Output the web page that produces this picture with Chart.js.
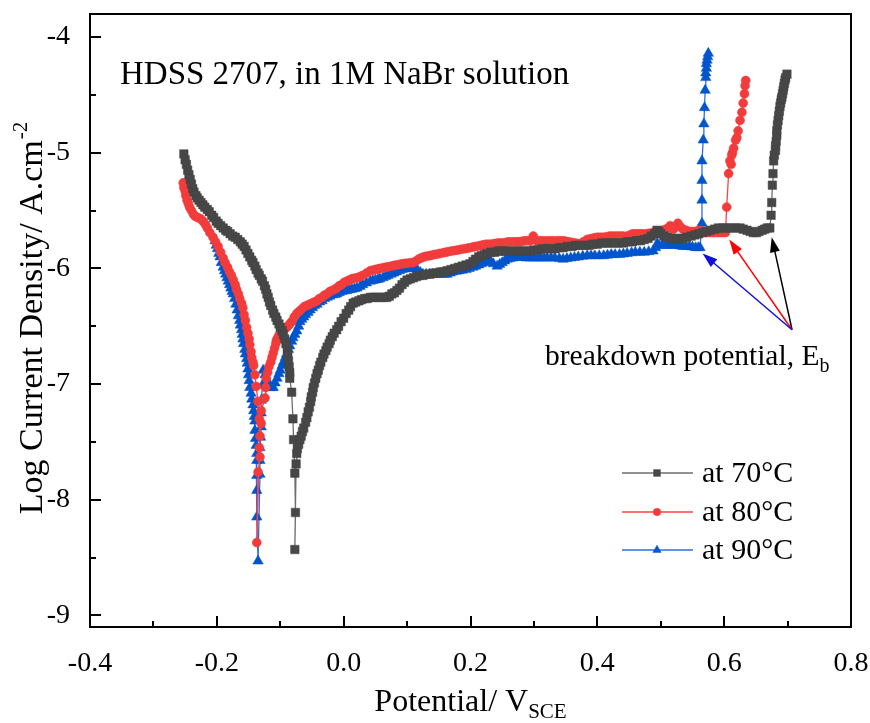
<!DOCTYPE html>
<html>
<head>
<meta charset="utf-8">
<script src="https://cdn.jsdelivr.net/npm/chart.js@4.4.0/dist/chart.umd.min.js"></script>
<style>
  html, body { margin: 0; padding: 0; background: #fff; }
  #wrap { width: 870px; height: 723px; }
</style>
</head>
<body>
<div id="wrap"><canvas id="tafel" width="870" height="723"></canvas></div>
<script>
// ---- polarization scans: [potential V vs SCE, log current density] ----
const scan70 = [
  [-0.252,-5.01],[-0.250,-5.06],[-0.248,-5.10],[-0.246,-5.15],[-0.244,-5.19],[-0.242,-5.23],[-0.240,-5.27],[-0.238,-5.31],
  [-0.236,-5.34],[-0.233,-5.37],[-0.231,-5.39],[-0.228,-5.41],[-0.225,-5.43],[-0.222,-5.45],[-0.219,-5.47],[-0.215,-5.49],
  [-0.212,-5.51],[-0.208,-5.54],[-0.205,-5.56],[-0.201,-5.59],[-0.198,-5.61],[-0.194,-5.63],[-0.190,-5.65],[-0.186,-5.67],
  [-0.183,-5.68],[-0.179,-5.70],[-0.175,-5.72],[-0.171,-5.73],[-0.167,-5.75],[-0.163,-5.77],[-0.160,-5.79],[-0.157,-5.81],
  [-0.154,-5.84],[-0.151,-5.87],[-0.148,-5.90],[-0.145,-5.93],[-0.143,-5.95],[-0.140,-5.98],[-0.138,-6.01],[-0.135,-6.04],
  [-0.133,-6.06],[-0.130,-6.09],[-0.128,-6.11],[-0.125,-6.15],[-0.123,-6.18],[-0.121,-6.22],[-0.119,-6.25],[-0.117,-6.29],
  [-0.115,-6.32],[-0.112,-6.36],[-0.110,-6.39],[-0.107,-6.42],[-0.105,-6.45],[-0.102,-6.48],[-0.100,-6.51],[-0.097,-6.54],
  [-0.095,-6.57],[-0.093,-6.61],[-0.091,-6.65],[-0.089,-6.70],[-0.088,-6.75],[-0.087,-6.80],[-0.086,-6.85],[-0.085,-6.90],
  [-0.085,-6.95],[-0.082,-7.07],[-0.080,-7.30],[-0.079,-7.48],[-0.077,-7.77],[-0.076,-8.11],[-0.077,-8.43],
  [-0.075,-7.69],[-0.074,-7.60],[-0.073,-7.56],[-0.071,-7.52],[-0.069,-7.48],[-0.067,-7.45],[-0.065,-7.41],[-0.063,-7.38],
  [-0.060,-7.33],[-0.058,-7.29],[-0.056,-7.24],[-0.054,-7.20],[-0.052,-7.15],[-0.051,-7.11],[-0.049,-7.07],[-0.048,-7.03],
  [-0.046,-6.99],[-0.044,-6.95],[-0.042,-6.91],[-0.040,-6.88],[-0.038,-6.84],[-0.036,-6.81],[-0.033,-6.77],[-0.031,-6.74],
  [-0.028,-6.71],[-0.026,-6.68],[-0.023,-6.65],[-0.021,-6.62],[-0.018,-6.59],[-0.015,-6.56],[-0.011,-6.53],[-0.008,-6.50],
  [-0.004,-6.46],[0.000,-6.43],[0.004,-6.39],[0.008,-6.36],[0.011,-6.33],[0.015,-6.30],[0.019,-6.29],[0.024,-6.28],
  [0.028,-6.27],[0.033,-6.26],[0.037,-6.26],[0.042,-6.25],[0.046,-6.25],[0.050,-6.25],[0.055,-6.25],[0.059,-6.25],
  [0.064,-6.25],[0.068,-6.25],[0.072,-6.24],[0.076,-6.22],[0.080,-6.21],[0.084,-6.19],[0.088,-6.17],[0.092,-6.14],
  [0.096,-6.12],[0.100,-6.10],[0.105,-6.09],[0.110,-6.08],[0.115,-6.07],[0.120,-6.06],[0.125,-6.06],[0.130,-6.05],
  [0.136,-6.05],[0.142,-6.04],[0.147,-6.04],[0.153,-6.03],[0.158,-6.03],[0.163,-6.02],[0.169,-6.01],[0.175,-6.00],
  [0.181,-5.99],[0.187,-5.98],[0.193,-5.97],[0.199,-5.96],[0.204,-5.94],[0.208,-5.92],[0.213,-5.90],[0.217,-5.89],
  [0.222,-5.88],[0.226,-5.87],[0.232,-5.86],[0.238,-5.86],[0.244,-5.85],[0.250,-5.85],[0.256,-5.85],[0.262,-5.85],
  [0.268,-5.85],[0.275,-5.85],[0.280,-5.85],[0.285,-5.85],[0.290,-5.85],[0.294,-5.85],[0.300,-5.84],[0.307,-5.84],
  [0.313,-5.83],[0.320,-5.83],[0.326,-5.83],[0.333,-5.83],[0.340,-5.82],[0.346,-5.82],[0.353,-5.81],[0.360,-5.81],
  [0.366,-5.80],[0.373,-5.80],[0.380,-5.80],[0.387,-5.80],[0.393,-5.79],[0.400,-5.79],[0.407,-5.78],[0.414,-5.78],
  [0.420,-5.78],[0.427,-5.78],[0.434,-5.78],[0.441,-5.78],[0.448,-5.77],[0.455,-5.77],[0.462,-5.76],[0.468,-5.76],
  [0.474,-5.75],[0.480,-5.74],[0.485,-5.72],[0.490,-5.70],[0.494,-5.67],[0.497,-5.68],[0.500,-5.70],[0.505,-5.72],
  [0.510,-5.73],[0.516,-5.74],[0.522,-5.74],[0.528,-5.74],[0.535,-5.74],[0.541,-5.73],[0.548,-5.72],[0.554,-5.71],
  [0.560,-5.70],[0.566,-5.69],[0.572,-5.68],[0.578,-5.67],[0.585,-5.66],[0.591,-5.65],[0.598,-5.65],[0.604,-5.65],
  [0.611,-5.65],[0.618,-5.65],[0.625,-5.65],[0.630,-5.66],[0.636,-5.67],[0.641,-5.68],[0.646,-5.69],[0.651,-5.69],
  [0.655,-5.68],[0.660,-5.67],[0.664,-5.66],[0.668,-5.65],[0.672,-5.65],
  [0.674,-5.54],[0.675,-5.43],[0.676,-5.28],[0.677,-5.18],[0.678,-5.07],[0.679,-5.02],[0.681,-4.98],[0.681,-4.94],
  [0.682,-4.90],[0.683,-4.85],[0.683,-4.81],[0.684,-4.76],[0.685,-4.72],[0.686,-4.68],[0.687,-4.64],[0.688,-4.60],
  [0.689,-4.57],[0.690,-4.54],[0.691,-4.52],[0.692,-4.49],[0.693,-4.46],[0.694,-4.43],[0.695,-4.40],[0.696,-4.37],
  [0.697,-4.35],[0.699,-4.32]
];

const scan80 = [
  [-0.253,-5.26],[-0.252,-5.30],[-0.250,-5.33],[-0.249,-5.37],[-0.247,-5.41],[-0.245,-5.44],[-0.243,-5.47],[-0.240,-5.50],
  [-0.237,-5.53],[-0.234,-5.55],[-0.230,-5.56],[-0.226,-5.57],[-0.222,-5.59],[-0.218,-5.62],[-0.215,-5.65],[-0.211,-5.69],
  [-0.206,-5.73],[-0.202,-5.77],[-0.198,-5.81],[-0.194,-5.86],[-0.190,-5.91],[-0.187,-5.95],[-0.183,-5.99],[-0.180,-6.03],
  [-0.177,-6.06],[-0.174,-6.10],[-0.171,-6.14],[-0.169,-6.18],[-0.166,-6.22],[-0.164,-6.26],[-0.161,-6.30],[-0.159,-6.34],
  [-0.157,-6.40],[-0.155,-6.45],[-0.153,-6.51],[-0.151,-6.56],[-0.149,-6.61],[-0.148,-6.66],[-0.146,-6.72],[-0.145,-6.77],
  [-0.143,-6.81],[-0.142,-6.84],[-0.140,-6.92],[-0.138,-7.02],[-0.135,-7.15],[-0.133,-7.30],[-0.132,-7.45],[-0.132,-7.63],
  [-0.135,-7.76],[-0.137,-8.37],
  [-0.133,-7.55],[-0.130,-7.34],[-0.130,-7.23],[-0.124,-7.12],[-0.123,-7.03],[-0.122,-6.95],[-0.120,-6.90],[-0.118,-6.85],
  [-0.115,-6.81],[-0.113,-6.77],[-0.111,-6.73],[-0.109,-6.69],[-0.107,-6.65],[-0.106,-6.62],[-0.104,-6.60],[-0.102,-6.58],
  [-0.100,-6.56],[-0.098,-6.55],[-0.096,-6.54],[-0.093,-6.52],[-0.090,-6.51],[-0.088,-6.50],[-0.085,-6.48],[-0.082,-6.46],
  [-0.078,-6.42],[-0.074,-6.39],[-0.070,-6.37],[-0.066,-6.35],[-0.062,-6.33],[-0.058,-6.32],[-0.054,-6.31],[-0.050,-6.30],
  [-0.046,-6.29],[-0.042,-6.28],[-0.038,-6.26],[-0.034,-6.25],[-0.030,-6.23],[-0.026,-6.22],[-0.022,-6.20],[-0.018,-6.19],
  [-0.014,-6.18],[-0.011,-6.17],[-0.007,-6.15],[-0.003,-6.14],[0.001,-6.12],[0.005,-6.11],[0.009,-6.10],[0.013,-6.09],
  [0.017,-6.085],[0.021,-6.08],[0.026,-6.07],[0.030,-6.06],[0.036,-6.04],[0.042,-6.02],[0.046,-6.015],[0.050,-6.01],
  [0.054,-6.005],[0.057,-6.00],[0.062,-5.995],[0.066,-5.99],[0.070,-5.985],[0.075,-5.98],[0.079,-5.975],[0.083,-5.97],
  [0.088,-5.965],[0.092,-5.96],[0.096,-5.957],[0.100,-5.955],[0.105,-5.95],[0.109,-5.95],[0.113,-5.94],[0.118,-5.92],
  [0.122,-5.91],[0.126,-5.90],[0.130,-5.895],[0.135,-5.89],[0.139,-5.885],[0.143,-5.88],[0.148,-5.875],[0.152,-5.87],
  [0.157,-5.865],[0.161,-5.86],[0.165,-5.855],[0.170,-5.85],[0.175,-5.845],[0.180,-5.84],[0.185,-5.835],[0.190,-5.83],
  [0.195,-5.825],[0.199,-5.82],[0.204,-5.815],[0.208,-5.81],[0.213,-5.805],[0.217,-5.80],[0.221,-5.795],[0.225,-5.79],
  [0.230,-5.79],[0.234,-5.79],[0.238,-5.785],[0.243,-5.78],[0.247,-5.78],[0.251,-5.78],[0.256,-5.775],[0.260,-5.77],
  [0.265,-5.77],[0.270,-5.77],[0.274,-5.77],[0.278,-5.77],[0.282,-5.765],[0.286,-5.76],[0.290,-5.76],[0.294,-5.76],
  [0.299,-5.72],[0.304,-5.76],[0.308,-5.76],[0.313,-5.76],[0.319,-5.76],[0.325,-5.76],[0.330,-5.76],[0.336,-5.76],
  [0.341,-5.76],[0.346,-5.76],[0.350,-5.765],[0.355,-5.77],[0.360,-5.775],[0.365,-5.78],[0.369,-5.785],[0.373,-5.79],
  [0.378,-5.77],[0.384,-5.75],[0.388,-5.745],[0.392,-5.74],[0.396,-5.735],[0.400,-5.73],[0.405,-5.73],[0.410,-5.73],
  [0.415,-5.725],[0.420,-5.72],[0.425,-5.72],[0.430,-5.72],[0.435,-5.72],[0.440,-5.72],[0.447,-5.72],[0.452,-5.71],
  [0.456,-5.70],[0.461,-5.70],[0.466,-5.70],[0.471,-5.70],[0.477,-5.70],[0.482,-5.695],[0.488,-5.69],[0.493,-5.685],
  [0.498,-5.68],[0.503,-5.67],[0.508,-5.66],[0.512,-5.65],[0.515,-5.63],[0.518,-5.65],[0.520,-5.66],[0.524,-5.64],
  [0.527,-5.61],[0.531,-5.64],[0.535,-5.66],[0.540,-5.67],[0.545,-5.68],[0.550,-5.68],[0.555,-5.68],[0.559,-5.675],
  [0.562,-5.67],[0.567,-5.68],[0.572,-5.69],[0.577,-5.69],[0.582,-5.69],[0.587,-5.69],[0.592,-5.69],[0.597,-5.69],
  [0.602,-5.69],
  [0.604,-5.47],[0.607,-5.18],[0.609,-5.07],[0.611,-5.10],[0.612,-5.02],[0.613,-5.00],[0.615,-4.96],[0.618,-4.89],
  [0.620,-4.87],[0.622,-4.81],[0.625,-4.72],[0.628,-4.65],[0.630,-4.57],[0.632,-4.49],[0.633,-4.42],[0.634,-4.375]
];

const scan90 = [
  [-0.203,-5.76],[-0.201,-5.80],[-0.199,-5.83],[-0.197,-5.87],[-0.195,-5.90],[-0.193,-5.95],[-0.190,-5.99],[-0.188,-6.02],
  [-0.186,-6.05],[-0.184,-6.08],[-0.182,-6.11],[-0.180,-6.14],[-0.178,-6.17],[-0.176,-6.20],[-0.174,-6.22],[-0.172,-6.26],
  [-0.170,-6.31],[-0.168,-6.36],[-0.166,-6.41],[-0.164,-6.45],[-0.163,-6.49],[-0.161,-6.53],[-0.160,-6.57],[-0.159,-6.61],
  [-0.158,-6.65],[-0.156,-6.70],[-0.155,-6.74],[-0.153,-6.78],[-0.152,-6.82],[-0.151,-6.87],[-0.150,-6.92],[-0.149,-6.97],
  [-0.148,-7.03],[-0.146,-7.08],[-0.145,-7.13],[-0.143,-7.18],[-0.142,-7.23],[-0.141,-7.28],[-0.140,-7.32],[-0.140,-7.40],
  [-0.139,-7.47],[-0.138,-7.53],[-0.137,-7.60],[-0.137,-7.66],[-0.137,-7.79],[-0.137,-7.92],[-0.137,-8.15],[-0.135,-8.53],
  [-0.132,-7.78],[-0.132,-7.66],[-0.132,-7.55],[-0.131,-7.46],[-0.130,-7.37],[-0.130,-7.25],[-0.130,-7.14],[-0.128,-7.01],
  [-0.127,-6.88],[-0.124,-6.92],[-0.122,-6.95],[-0.119,-6.99],[-0.116,-7.03],[-0.113,-7.03],[-0.111,-7.03],[-0.108,-6.99],
  [-0.105,-6.95],[-0.102,-6.91],[-0.100,-6.88],[-0.097,-6.84],[-0.095,-6.81],[-0.092,-6.77],[-0.090,-6.74],[-0.087,-6.70],
  [-0.085,-6.67],[-0.082,-6.63],[-0.080,-6.60],[-0.077,-6.57],[-0.074,-6.54],[-0.071,-6.50],[-0.069,-6.46],[-0.066,-6.44],
  [-0.063,-6.42],[-0.060,-6.40],[-0.056,-6.38],[-0.053,-6.36],[-0.049,-6.34],[-0.046,-6.32],[-0.042,-6.31],[-0.038,-6.29],
  [-0.034,-6.28],[-0.030,-6.26],[-0.026,-6.25],[-0.022,-6.24],[-0.018,-6.23],[-0.014,-6.225],[-0.011,-6.22],[-0.007,-6.21],
  [-0.003,-6.20],[0.001,-6.195],[0.005,-6.19],[0.009,-6.185],[0.013,-6.18],[0.017,-6.175],[0.021,-6.17],[0.026,-6.155],
  [0.030,-6.14],[0.036,-6.125],[0.042,-6.11],[0.046,-6.105],[0.050,-6.10],[0.054,-6.095],[0.057,-6.09],[0.062,-6.08],
  [0.066,-6.07],[0.070,-6.06],[0.075,-6.05],[0.079,-6.04],[0.083,-6.03],[0.088,-6.02],[0.092,-6.01],[0.096,-6.005],
  [0.100,-6.00],[0.105,-5.995],[0.109,-5.99],[0.113,-6.005],[0.117,-6.02],[0.121,-6.035],[0.125,-6.05],[0.130,-6.05],
  [0.135,-6.05],[0.140,-6.05],[0.145,-6.05],[0.150,-6.05],[0.155,-6.05],[0.159,-6.05],[0.163,-6.05],[0.168,-6.04],
  [0.172,-6.03],[0.177,-6.025],[0.182,-6.02],[0.187,-6.015],[0.193,-6.01],[0.198,-6.00],[0.204,-5.99],[0.208,-5.98],
  [0.213,-5.97],[0.217,-5.96],[0.222,-5.95],[0.226,-5.94],[0.231,-5.93],[0.236,-5.96],[0.242,-5.98],[0.246,-5.965],
  [0.250,-5.95],[0.254,-5.935],[0.258,-5.92],[0.262,-5.915],[0.267,-5.91],[0.272,-5.905],[0.278,-5.90],[0.283,-5.905],
  [0.288,-5.91],[0.294,-5.91],[0.300,-5.91],[0.305,-5.91],[0.310,-5.91],[0.316,-5.91],[0.321,-5.91],[0.327,-5.91],
  [0.333,-5.91],[0.340,-5.915],[0.346,-5.92],[0.352,-5.915],[0.358,-5.91],[0.364,-5.905],[0.370,-5.90],[0.377,-5.895],
  [0.384,-5.89],[0.390,-5.89],[0.396,-5.89],[0.403,-5.89],[0.410,-5.89],[0.416,-5.885],[0.422,-5.88],[0.428,-5.88],
  [0.435,-5.88],[0.441,-5.875],[0.447,-5.87],[0.454,-5.865],[0.460,-5.86],[0.467,-5.86],[0.474,-5.86],[0.481,-5.855],
  [0.488,-5.85],[0.492,-5.82],[0.494,-5.79],[0.494,-5.70],[0.497,-5.80],[0.502,-5.80],[0.506,-5.80],[0.511,-5.80],
  [0.515,-5.80],[0.520,-5.80],[0.525,-5.80],[0.530,-5.805],[0.535,-5.81],[0.540,-5.81],[0.545,-5.81],[0.550,-5.815],
  [0.555,-5.82],[0.559,-5.82],[0.562,-5.82],
  [0.565,-5.61],[0.565,-5.41],[0.565,-5.24],[0.565,-5.07],[0.567,-4.89],[0.568,-4.75],[0.569,-4.61],[0.570,-4.46],
  [0.571,-4.35],[0.571,-4.31],[0.572,-4.27],[0.572,-4.23],[0.573,-4.20],[0.574,-4.17],[0.575,-4.14]
];

const seriesLabels = ['at 70\u00B0C', 'at 80\u00B0C', 'at 90\u00B0C'];
const xTicks = [-0.4, -0.2, 0.0, 0.2, 0.4, 0.6, 0.8];
const yTicks = [-9, -8, -7, -6, -5, -4];

// arrows marking the breakdown potential E_b: shared tail, one tip per curve (70, 80, 90 C)
const arrowTail = [0.707, -6.53];
const arrowTips = [[0.675, -5.73], [0.608, -5.75], [0.566, -5.87]];

const SERIF = '"Liberation Serif", "Times New Roman", serif';
const colors = ['#474747', '#f23c3c', '#0055cc'];
const lineColors = ['#6e6e6e', '#ff4040', '#2b6fe0'];
const arrowColors = ['#000000', '#ff0000', '#1010d8'];

function toPoints(pairs) {
  return pairs.map(p => ({ x: p[0], y: p[1] }));
}

const datasets = [
  { label: seriesLabels[0], data: toPoints(scan70), pointStyle: 'rect', pointRadius: 6.0 },
  { label: seriesLabels[1], data: toPoints(scan80), pointStyle: 'circle', pointRadius: 4.5 },
  { label: seriesLabels[2], data: toPoints(scan90), pointStyle: 'triangle', pointRadius: 6.0 }
].map((d, i) => Object.assign(d, {
  showLine: true,
  borderColor: lineColors[i],
  borderWidth: 1.3,
  backgroundColor: colors[i],
  pointBackgroundColor: colors[i],
  pointBorderColor: colors[i],
  pointBorderWidth: 0.5,
  tension: 0
}));

function drawArrow(ctx, x1, y1, x2, y2, color) {
  const ang = Math.atan2(y2 - y1, x2 - x1);
  const hl = 15, hw = 5;
  ctx.save();
  ctx.strokeStyle = color;
  ctx.fillStyle = color;
  ctx.lineWidth = 1.5;
  ctx.beginPath();
  ctx.moveTo(x1, y1);
  ctx.lineTo(x2 - Math.cos(ang) * hl * 0.8, y2 - Math.sin(ang) * hl * 0.8);
  ctx.stroke();
  ctx.beginPath();
  ctx.moveTo(x2, y2);
  ctx.lineTo(x2 - hl * Math.cos(ang) + hw * Math.sin(ang), y2 - hl * Math.sin(ang) - hw * Math.cos(ang));
  ctx.lineTo(x2 - hl * Math.cos(ang) - hw * Math.sin(ang), y2 - hl * Math.sin(ang) + hw * Math.cos(ang));
  ctx.closePath();
  ctx.fill();
  ctx.restore();
}

const decorPlugin = {
  id: 'decor',
  afterDraw(chart) {
    const ctx = chart.ctx;
    const a = chart.chartArea;
    const xs = chart.scales.x, ys = chart.scales.y;
    ctx.save();

    // frame
    ctx.strokeStyle = '#000';
    ctx.lineWidth = 2;
    ctx.strokeRect(a.left, a.top, a.right - a.left, a.bottom - a.top);

    // inward ticks, major + minor
    ctx.beginPath();
    for (let k = -4; k <= 8; k++) {
      const px = Math.round(xs.getPixelForValue(k / 10));
      const major = k % 2 === 0;
      ctx.moveTo(px, a.bottom);
      ctx.lineTo(px, a.bottom - (major ? 11 : 6));
    }
    for (let k = -18; k <= -8; k++) {
      const py = Math.round(ys.getPixelForValue(k / 2));
      const major = k % 2 === 0;
      ctx.moveTo(a.left, py);
      ctx.lineTo(a.left + (major ? 11 : 6), py);
    }
    ctx.stroke();

    ctx.fillStyle = '#000';
    ctx.textBaseline = 'alphabetic';

    // heading inside plot
    ctx.font = '33px ' + SERIF;
    ctx.textAlign = 'left';
    ctx.fillText('HDSS 2707, in 1M NaBr solution', 120, 84);

    // x title with subscript
    ctx.font = '32px ' + SERIF;
    const main = 'Potential/ V';
    const wMain = ctx.measureText(main).width;
    ctx.font = '21px ' + SERIF;
    const wSub = ctx.measureText('SCE').width;
    const sx = (a.left + a.right) / 2 - (wMain + wSub) / 2;
    ctx.font = '32px ' + SERIF;
    ctx.fillText(main, sx, 711);
    ctx.font = '21px ' + SERIF;
    ctx.fillText('SCE', sx + wMain, 718);

    // y title with superscript, rotated
    ctx.save();
    ctx.translate(42, (a.top + a.bottom) / 2 - 2);
    ctx.rotate(-Math.PI / 2);
    ctx.font = '34px ' + SERIF;
    const yMain = 'Log Current Density/ A.cm';
    const wy = ctx.measureText(yMain).width;
    ctx.font = '21px ' + SERIF;
    const wsup = ctx.measureText('-2').width;
    const y0 = -(wy + wsup) / 2;
    ctx.font = '34px ' + SERIF;
    ctx.fillText(yMain, y0, 0);
    ctx.font = '21px ' + SERIF;
    ctx.fillText('-2', y0 + wy + 1, -15);
    ctx.restore();

    // breakdown arrows
    const tx = xs.getPixelForValue(arrowTail[0]);
    const ty = ys.getPixelForValue(arrowTail[1]);
    arrowTips.forEach((t, i) => {
      drawArrow(ctx, tx, ty, xs.getPixelForValue(t[0]), ys.getPixelForValue(t[1]), arrowColors[i]);
    });

    ctx.fillStyle = '#000';
    ctx.font = '29.5px ' + SERIF;
    ctx.textAlign = 'left';
    const bt = 'breakdown potential, E';
    ctx.fillText(bt, 545, 365);
    const wbt = ctx.measureText(bt).width;
    ctx.font = '20px ' + SERIF;
    ctx.fillText('b', 545 + wbt, 372);

    // legend
    const rows = [473, 512, 550];
    chart.data.datasets.forEach((d, i) => {
      const y = rows[i];
      ctx.strokeStyle = lineColors[i];
      ctx.lineWidth = 1.3;
      ctx.beginPath();
      ctx.moveTo(622, y);
      ctx.lineTo(693, y);
      ctx.stroke();
      ctx.fillStyle = colors[i];
      ctx.strokeStyle = colors[i];
      ctx.lineWidth = 0.5;
      Chart.helpers.drawPoint(ctx, {
        pointStyle: d.pointStyle,
        radius: d.pointStyle === 'circle' ? 3.8 : 4.8,
        borderWidth: 0.5,
        rotation: 0
      }, 657, y);
      ctx.fillStyle = '#000';
      ctx.font = '30px ' + SERIF;
      ctx.textBaseline = 'middle';
      ctx.fillText(seriesLabels[i], 702, y + 1);
      ctx.textBaseline = 'alphabetic';
    });

    ctx.restore();
  }
};

function noOverflow(s) {
  s.paddingLeft = 0; s.paddingRight = 0; s.paddingTop = 0; s.paddingBottom = 0;
}

new Chart(document.getElementById('tafel'), {
  type: 'scatter',
  data: { datasets: datasets },
  options: {
    responsive: false,
    devicePixelRatio: 1,
    animation: false,
    layout: { padding: { top: 14, right: 19, left: 0, bottom: 0 } },
    plugins: { legend: { display: false }, tooltip: { enabled: false } },
    scales: {
      x: {
        type: 'linear',
        min: -0.4,
        max: 0.8,
        afterFit: s => { noOverflow(s); s.height = 96; },
        afterBuildTicks: s => { s.ticks = xTicks.map(v => ({ value: v })); },
        grid: { display: false },
        border: { display: false },
        ticks: {
          color: '#000',
          padding: 12,
          font: { family: SERIF, size: 28 },
          callback: v => v.toFixed(1)
        }
      },
      y: {
        type: 'linear',
        min: -9.1,
        max: -3.8,
        afterFit: s => { noOverflow(s); s.width = 90; },
        afterBuildTicks: s => { s.ticks = yTicks.map(v => ({ value: v })); },
        grid: { display: false },
        border: { display: false },
        ticks: {
          color: '#000',
          padding: 12,
          font: { family: SERIF, size: 28 },
          callback: v => String(v)
        }
      }
    }
  },
  plugins: [decorPlugin]
});
</script>
</body>
</html>
